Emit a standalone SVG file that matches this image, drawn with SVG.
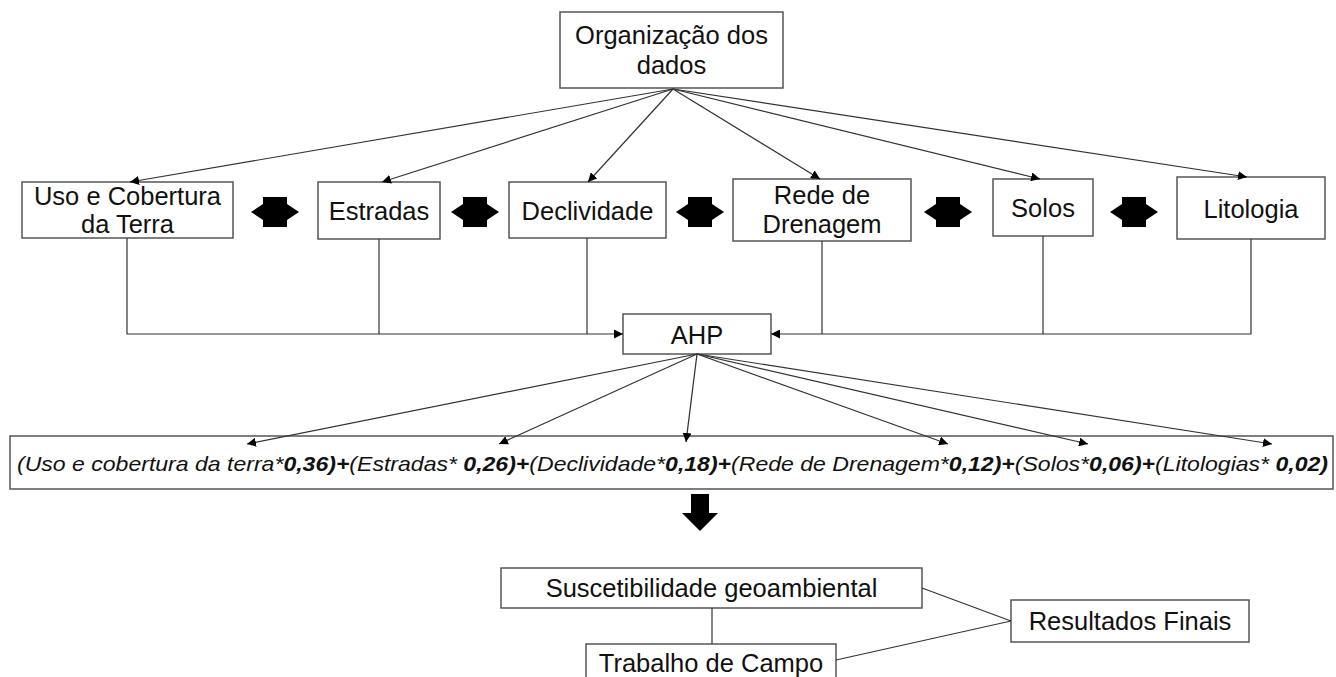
<svg xmlns="http://www.w3.org/2000/svg" width="1336" height="677" viewBox="0 0 1336 677">
<defs>
<marker id="ah" viewBox="0 0 10 10" refX="10" refY="5" markerWidth="9" markerHeight="9" markerUnits="userSpaceOnUse" orient="auto">
<path d="M0,0 L10,5 L0,10 Z" fill="#000"/>
</marker>
<path id="dbl" d="M-24,0 L-12,-8 L-12,-15 L12,-15 L12,-8 L24,0 L12,8 L12,15 L-12,15 L-12,8 Z" fill="#000"/>
</defs>
<style>
.box{fill:#fff;stroke:#555;stroke-width:1.5}
.t{font-family:"Liberation Sans",Arial,sans-serif;font-size:25.5px;fill:#111;text-anchor:middle}
.c{stroke:#333;stroke-width:1.2;fill:none}
.f{font-family:"Liberation Sans",Arial,sans-serif;font-size:21px;font-style:italic;fill:#111}
.b{font-weight:bold}
</style>
<rect width="1336" height="677" fill="#fff"/>
<g id="n-org">
<rect class="box" x="560" y="12" width="223" height="76"/>
<text class="t" x="671.5" y="44">Organização dos</text>
<text class="t" x="671.5" y="74">dados</text>
</g>
<g id="n-uso">
<rect class="box" x="22" y="182" width="211" height="56"/>
<text class="t" x="127.5" y="205">Uso e Cobertura</text>
<text class="t" x="127.5" y="233">da Terra</text>
</g>
<g id="n-estradas">
<rect class="box" x="318" y="182" width="122" height="57"/>
<text class="t" x="379" y="220">Estradas</text>
</g>
<g id="n-decl">
<rect class="box" x="509" y="182" width="157" height="56"/>
<text class="t" x="587.5" y="220">Declividade</text>
</g>
<g id="n-rede">
<rect class="box" x="733" y="179" width="178" height="62"/>
<text class="t" x="822" y="204">Rede de</text>
<text class="t" x="822" y="233">Drenagem</text>
</g>
<g id="n-solos">
<rect class="box" x="993" y="179" width="100" height="57"/>
<text class="t" x="1043" y="217">Solos</text>
</g>
<g id="n-lito">
<rect class="box" x="1177" y="177" width="148" height="62"/>
<text class="t" x="1251" y="218">Litologia</text>
</g>
<g id="n-ahp">
<rect class="box" x="623" y="314" width="148" height="40"/>
<text class="t" x="697" y="344">AHP</text>
</g>
<g id="n-formula">
<rect class="box" x="10" y="436" width="1323" height="53"/>
<text class="f" x="17" y="471" textLength="1311" lengthAdjust="spacingAndGlyphs">(Uso e cobertura da terra*<tspan class="b">0,36)+</tspan>(Estradas* <tspan class="b">0,26)+</tspan>(Declividade*<tspan class="b">0,18)+</tspan>(Rede de Drenagem*<tspan class="b">0,12)+</tspan>(Solos*<tspan class="b">0,06)+</tspan>(Litologias* <tspan class="b">0,02)</tspan></text>
</g>
<g id="n-susc">
<rect class="box" x="501" y="568" width="421" height="40"/>
<text class="t" x="711.5" y="597">Suscetibilidade geoambiental</text>
</g>
<g id="n-trab">
<rect class="box" x="586" y="644" width="250" height="45"/>
<text class="t" x="711" y="672">Trabalho de Campo</text>
</g>
<g id="n-res">
<rect class="box" x="1011" y="600" width="238" height="42"/>
<text class="t" x="1130" y="630">Resultados Finais</text>
</g>
<g id="connectors">
<line class="c" x1="673" y1="89" x2="130" y2="182" marker-end="url(#ah)"/>
<line class="c" x1="673" y1="89" x2="382" y2="182" marker-end="url(#ah)"/>
<line class="c" x1="673" y1="89" x2="588" y2="182" marker-end="url(#ah)"/>
<line class="c" x1="673" y1="89" x2="820" y2="179" marker-end="url(#ah)"/>
<line class="c" x1="673" y1="89" x2="1040" y2="179" marker-end="url(#ah)"/>
<line class="c" x1="673" y1="89" x2="1247" y2="177" marker-end="url(#ah)"/>
<polyline class="c" points="127,238 127,334 623,334" marker-end="url(#ah)"/>
<line class="c" x1="379" y1="239" x2="379" y2="334"/>
<line class="c" x1="587" y1="238" x2="587" y2="334"/>
<polyline class="c" points="1251,239 1251,334 771,334" marker-end="url(#ah)"/>
<line class="c" x1="822" y1="241" x2="822" y2="334"/>
<line class="c" x1="1043" y1="236" x2="1043" y2="334"/>
<line class="c" x1="697" y1="354" x2="247" y2="444" marker-end="url(#ah)"/>
<line class="c" x1="697" y1="354" x2="499" y2="444" marker-end="url(#ah)"/>
<line class="c" x1="697" y1="354" x2="686" y2="442" marker-end="url(#ah)"/>
<line class="c" x1="697" y1="354" x2="948" y2="444" marker-end="url(#ah)"/>
<line class="c" x1="697" y1="354" x2="1088" y2="444" marker-end="url(#ah)"/>
<line class="c" x1="697" y1="354" x2="1272" y2="444" marker-end="url(#ah)"/>
<use href="#dbl" x="275" y="212"/>
<use href="#dbl" x="475" y="212"/>
<use href="#dbl" x="700" y="212"/>
<use href="#dbl" x="948" y="212"/>
<use href="#dbl" x="1134" y="212"/>
<path d="M691,494 H709 V513 H718 L700,531 L682,513 H691 Z" fill="#000"/>
<line class="c" x1="712" y1="608" x2="712" y2="644"/>
<line class="c" x1="922" y1="588" x2="1011" y2="621"/>
<line class="c" x1="836" y1="660" x2="1011" y2="621"/>
</g>
</svg>
